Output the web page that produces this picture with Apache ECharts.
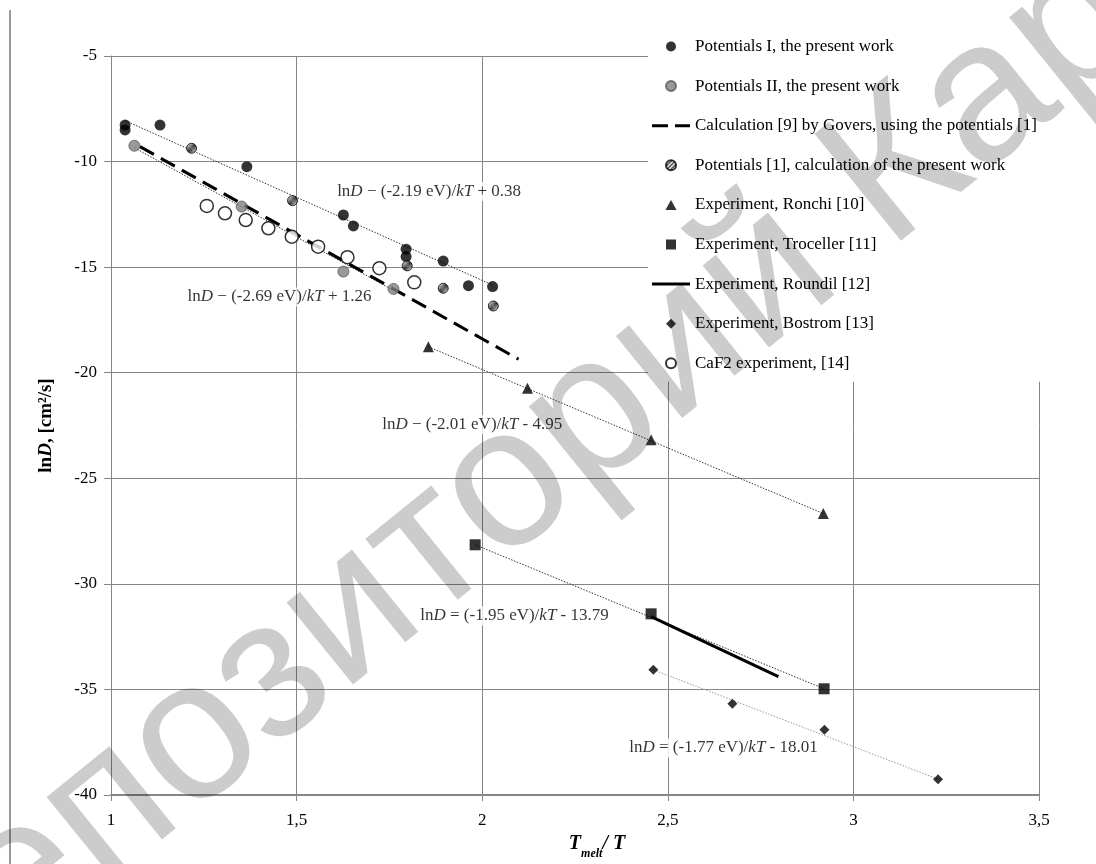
<!DOCTYPE html>
<html>
<head>
<meta charset="UTF-8">
<title>lnD vs Tmelt/T</title>
<script src="https://cdn.jsdelivr.net/npm/echarts@6/dist/echarts.min.js"></script>
<style>
  html, body { margin: 0; padding: 0; background: #ffffff; }
  #chart { width: 1096px; height: 864px; }
</style>
</head>
<body>
<div id="chart"></div>
<script>
// values, each point is [Tmelt/T, lnD]
var potentialsI = [[1.038, -8.27], [1.038, -8.50], [1.132, -8.27], [1.366, -10.24], [1.626, -12.53],
  [1.653, -13.05], [1.795, -14.15], [1.795, -14.50], [1.895, -14.71], [1.963, -15.88], [2.028, -15.92]];
var potentialsII = [[1.063, -9.25], [1.352, -12.13], [1.626, -15.21], [1.761, -16.03]];
var potentials1 = [[1.217, -9.37], [1.489, -11.85], [1.798, -14.94], [1.895, -16.00], [2.030, -16.84]];
var govers = [[1.078, -9.29], [2.098, -19.36]];
var ronchi = [[1.855, -18.77], [2.122, -20.74], [2.455, -23.18], [2.919, -26.67]];
var troceller = [[1.981, -28.15], [2.455, -31.42], [2.921, -34.97]];
var roundil = [[2.455, -31.55], [2.605, -32.80], [2.798, -34.39]];
var bostrom = [[2.461, -34.07], [2.674, -35.68], [2.922, -36.91], [3.228, -39.25]];
var caf2 = [[1.258, -12.10], [1.307, -12.45], [1.363, -12.77], [1.424, -13.16], [1.487, -13.56],
  [1.558, -14.03], [1.637, -14.53], [1.723, -15.05], [1.817, -15.72]];

// trend lines (end points as drawn)
var fitI = [[1.038, -8.06], [2.028, -15.85]];
var fitII = [[1.063, -9.35], [1.761, -16.10]];
var fitRonchi = [[1.855, -18.77], [2.919, -26.67]];
var fitTroceller = [[1.981, -28.15], [2.921, -34.97]];
var fitBostrom = [[2.461, -34.07], [3.228, -39.25]];

var fitEquations = [
  'lnD − (-2.19 eV)/kT + 0.38',
  'lnD − (-2.69 eV)/kT + 1.26',
  'lnD − (-2.01 eV)/kT - 4.95',
  'lnD = (-1.95 eV)/kT - 13.79',
  'lnD = (-1.77 eV)/kT - 18.01'
];

var legendNames = [
  'Potentials I, the present work',
  'Potentials II, the present work',
  'Calculation [9] by Govers, using the potentials [1]',
  'Potentials [1], calculation of the present work',
  'Experiment, Ronchi [10]',
  'Experiment, Troceller [11]',
  'Experiment, Roundil [12]',
  'Experiment, Bostrom [13]',
  'CaF2 experiment, [14]'
];

var xTicks = { min: 1, max: 3.5, step: 0.5 };
var yTicks = { min: -40, max: -5, step: 5 };

// where the equation boxes sit (in axis units)
var equationAt = [[1.857, -11.42], [1.454, -16.41], [1.973, -22.47], [2.087, -31.52], [2.650, -37.77]];

var SERIF = '"Liberation Serif", "Times New Roman", serif';
var GRID = '#868686';

// legend glyphs
var ICON_DASH = 'path://M0,0h16v3h-16z M23,0h15v3h-15z';
var ICON_SOLID = 'path://M0,0h38v3h-38z';
var ICON_TRI = 'path://M5,0L10,9L0,9Z';
var ICON_RECT = 'path://M0,0h10v10h-10z';
var ICON_DIAMOND = 'path://M5,0L10,5L5,10L0,5Z';
var legendIcons = ['circle', 'circle', ICON_DASH, 'circle', ICON_TRI, ICON_RECT, ICON_SOLID, ICON_DIAMOND, 'circle'];

// diagonal hatch fill for "Potentials [1]"
var hatch = document.createElement('canvas');
hatch.width = 4; hatch.height = 4;
var hg = hatch.getContext('2d');
hg.fillStyle = '#ffffff';
hg.fillRect(0, 0, 4, 4);
hg.strokeStyle = '#000000';
hg.lineWidth = 1.3;
hg.beginPath();
hg.moveTo(0, 4); hg.lineTo(4, 0);
hg.moveTo(-1, 1); hg.lineTo(1, -1);
hg.moveTo(3, 5); hg.lineTo(5, 3);
hg.stroke();

function fitLine(data, color) {
  return {
    type: 'line', data: data, symbol: 'none', silent: true, z: 1,
    lineStyle: { color: color, width: 1, type: [1.5, 1.5] }
  };
}

function eqRich(s) {
  return s.replace('lnD', 'ln{i|D}').replace('kT', '{i|kT}');
}

var chart = echarts.init(document.getElementById('chart'));

var option = {
  animation: false,
  backgroundColor: '#ffffff',
  grid: { left: 111, right: 57, top: 56, bottom: 69, outerBoundsMode: 'none', containLabel: false },
  legend: {
    orient: 'vertical', left: 648, top: 0,
    padding: [38, 8, 10, 4],
    backgroundColor: '#ffffff',
    itemWidth: 38, itemHeight: 10, itemGap: 22.6,
    data: legendNames.map(function (n, i) { return { name: n, icon: legendIcons[i] }; }),
    textStyle: { fontFamily: SERIF, fontSize: 17, color: '#000' },
    selectedMode: false
  },
  xAxis: {
    type: 'value', min: xTicks.min, max: xTicks.max, interval: xTicks.step,
    name: '{t|T}{s|melt}{t|/ T}', nameLocation: 'middle', nameGap: 33,
    nameTextStyle: {
      padding: [0, 0, 0, 44],
      rich: {
        t: { fontFamily: SERIF, fontSize: 20, fontWeight: 'bold', fontStyle: 'italic', color: '#000', lineHeight: 26, verticalAlign: 'top' },
        s: { fontFamily: SERIF, fontSize: 12, fontWeight: 'bold', fontStyle: 'italic', color: '#000', lineHeight: 12, verticalAlign: 'bottom' }
      }
    },
    axisLine: { show: true, lineStyle: { color: GRID, width: 2 } },
    axisTick: { show: true, inside: false, length: 6, lineStyle: { color: GRID } },
    splitLine: { show: true, lineStyle: { color: GRID, width: 1 } },
    axisLabel: {
      fontFamily: SERIF, fontSize: 17, color: '#000', margin: 17,
      formatter: function (v) { return String(v).replace('.', ','); }
    }
  },
  yAxis: {
    type: 'value', min: yTicks.min, max: yTicks.max, interval: yTicks.step,
    name: '{b|ln}{bi|D}{b|, [cm²/s]}', nameLocation: 'middle', nameGap: 55,
    nameTextStyle: {
      rich: {
        b: { fontFamily: SERIF, fontSize: 19, fontWeight: 'bold', color: '#000' },
        bi: { fontFamily: SERIF, fontSize: 19, fontWeight: 'bold', fontStyle: 'italic', color: '#000' }
      }
    },
    axisLine: { show: true, onZero: false, lineStyle: { color: GRID, width: 1 } },
    axisTick: { show: true, inside: false, length: 7, lineStyle: { color: GRID } },
    splitLine: { show: true, lineStyle: { color: GRID, width: 1 } },
    axisLabel: { fontFamily: SERIF, fontSize: 17, color: '#000', margin: 14 }
  },
  graphic: [
    {
      type: 'line', silent: true, z: 50,
      shape: { x1: 10, y1: 10, x2: 10, y2: 864 },
      style: { stroke: '#9a9a9a', lineWidth: 2 }
    },
    {
      // repository watermark across the page
      type: 'text', silent: true, z: 100,
      x: 592, y: 420, rotation: 39 * Math.PI / 180,
      style: {
        text: 'Репозиторий КарГУ',
        fontFamily: '"Liberation Sans", Arial, sans-serif', fontSize: 200,
        fill: 'rgba(0,0,0,0.2)', textAlign: 'center', textVerticalAlign: 'middle'
      }
    }
  ],
  series: [
    fitLine(fitI, '#333'),
    fitLine(fitII, '#333'),
    fitLine(fitRonchi, '#333'),
    fitLine(fitTroceller, '#333'),
    fitLine(fitBostrom, '#999'),
    {
      name: legendNames[2], type: 'line', data: govers, symbol: 'none', z: 3,
      lineStyle: { color: '#000', width: 3, type: [16, 8] }, itemStyle: { color: '#000' }
    },
    {
      name: legendNames[6], type: 'line', data: roundil, symbol: 'none', z: 3,
      lineStyle: { color: '#000', width: 3 }, itemStyle: { color: '#000' }
    },
    {
      name: legendNames[0], type: 'scatter', data: potentialsI, symbol: 'circle', symbolSize: 11, z: 4,
      itemStyle: { color: '#000' }
    },
    {
      name: legendNames[1], type: 'scatter', data: potentialsII, symbol: 'circle', symbolSize: 11, z: 4,
      itemStyle: { color: '#7f7f7f', borderColor: '#5a5a5a', borderWidth: 1 }
    },
    {
      name: legendNames[3], type: 'scatter', data: potentials1, symbol: 'circle', symbolSize: 10, z: 4,
      itemStyle: { color: { image: hatch, repeat: 'repeat' }, borderColor: '#000', borderWidth: 1 }
    },
    {
      name: legendNames[4], type: 'scatter', data: ronchi, symbol: 'triangle', symbolSize: 11, z: 4,
      itemStyle: { color: '#000' }
    },
    {
      name: legendNames[5], type: 'scatter', data: troceller, symbol: 'rect', symbolSize: 11, z: 4,
      itemStyle: { color: '#000' }
    },
    {
      name: legendNames[7], type: 'scatter', data: bostrom, symbol: 'diamond', symbolSize: 10, z: 4,
      itemStyle: { color: '#000' }
    },
    {
      name: legendNames[8], type: 'scatter', data: caf2, symbol: 'circle', symbolSize: 13, z: 4,
      itemStyle: { color: '#ffffff', borderColor: '#000', borderWidth: 1.5 }
    },
    {
      type: 'scatter', silent: true, symbolSize: 0, z: 5,
      data: equationAt.map(function (p, i) { return { value: p, name: fitEquations[i] }; }),
      label: {
        show: true, position: 'inside',
        formatter: function (p) { return eqRich(p.name); },
        fontFamily: SERIF, fontSize: 17, color: '#000',
        backgroundColor: '#ffffff', padding: [1, 2],
        rich: { i: { fontFamily: SERIF, fontSize: 17, fontStyle: 'italic', color: '#000' } }
      }
    }
  ]
};

chart.setOption(option);
</script>
</body>
</html>
